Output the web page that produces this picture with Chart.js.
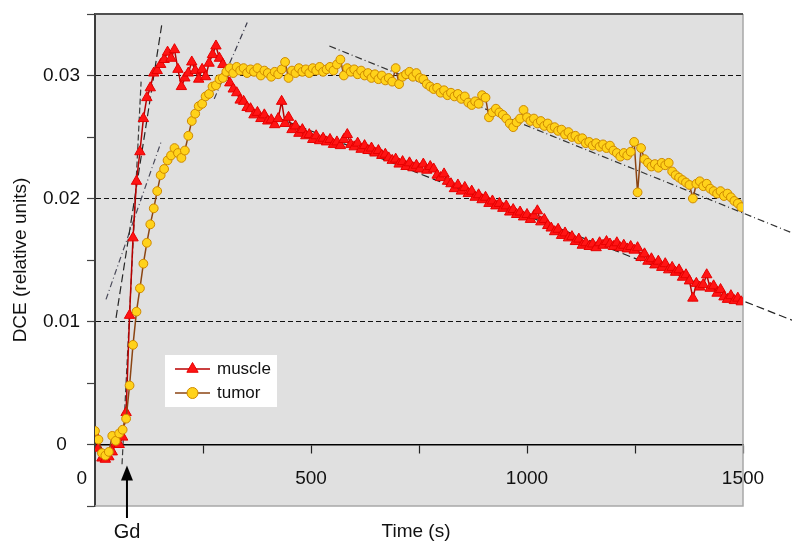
<!DOCTYPE html>
<html><head><meta charset="utf-8">
<script src="https://cdn.jsdelivr.net/npm/chart.js@4.4.1/dist/chart.umd.min.js"></script>
<style>html,body{margin:0;padding:0;background:#fff;}#wrap{width:792px;height:542px;}</style>
</head><body><div id="wrap"><canvas id="c" width="792" height="542"></canvas></div>
<script>
// ---- data ----
const times = [
0,8,16,24,32,40,48,56,64,72,
80,88,96,104,112,120,128,136,144,152,
160,168,176,184,192,200,208,216,224,232,
240,248,256,264,272,280,288,296,304,312,
320,328,336,344,352,360,368,376,384,392,
400,408,416,424,432,440,448,456,464,472,
480,488,496,504,512,520,528,536,544,552,
560,568,576,584,592,600,608,616,624,632,
640,648,656,664,672,680,688,696,704,712,
720,728,736,744,752,760,768,776,784,792,
800,808,816,824,832,840,848,856,864,872,
880,888,896,904,912,920,928,936,944,952,
960,968,976,984,992,1000,1008,1016,1024,1032,
1040,1048,1056,1064,1072,1080,1088,1096,1104,1112,
1120,1128,1136,1144,1152,1160,1168,1176,1184,1192,
1200,1208,1216,1224,1232,1240,1248,1256,1264,1272,
1280,1288,1296,1304,1312,1320,1328,1336,1344,1352,
1360,1368,1376,1384,1392,1400,1408,1416,1424,1432,
1440,1448,1456,1464,1472,1480,1488,1496
];
const muscle = [
0.0008,-0.0003,-0.0011,-0.0012,-0.0010,-0.0006,0.0001,0.0000,0.0006,0.0026,
0.0105,0.0168,0.0214,0.0238,0.0265,0.0282,0.0290,0.0302,0.0304,0.0309,
0.0313,0.0319,0.0314,0.0321,0.0305,0.0291,0.0298,0.0302,0.0311,0.0304,
0.0297,0.0305,0.0299,0.0310,0.0317,0.0324,0.0314,0.0309,0.0303,0.0294,
0.0289,0.0286,0.0280,0.0279,0.0274,0.0273,0.0268,0.0270,0.0265,0.0268,
0.0263,0.0264,0.0260,0.0265,0.0279,0.0261,0.0266,0.0256,0.0259,0.0253,
0.0256,0.0251,0.0252,0.0248,0.0251,0.0247,0.0249,0.0246,0.0248,0.0244,
0.0246,0.0243,0.0248,0.0252,0.0244,0.0242,0.0245,0.0240,0.0243,0.0239,
0.0241,0.0237,0.0239,0.0235,0.0236,0.0233,0.0231,0.0232,0.0228,0.0230,
0.0226,0.0229,0.0225,0.0227,0.0224,0.0228,0.0223,0.0226,0.0224,0.0219,
0.0217,0.0220,0.0214,0.0212,0.0208,0.0211,0.0206,0.0209,0.0204,0.0206,
0.0201,0.0203,0.0199,0.0201,0.0196,0.0198,0.0194,0.0196,0.0192,0.0194,
0.0189,0.0191,0.0187,0.0189,0.0185,0.0187,0.0183,0.0186,0.0190,0.0181,
0.0183,0.0178,0.0176,0.0173,0.0175,0.0170,0.0172,0.0168,0.0169,0.0165,
0.0167,0.0162,0.0164,0.0161,0.0163,0.0160,0.0164,0.0162,0.0165,0.0163,
0.0161,0.0164,0.0160,0.0162,0.0159,0.0161,0.0158,0.0160,0.0152,0.0155,
0.0149,0.0151,0.0146,0.0149,0.0144,0.0147,0.0142,0.0144,0.0140,0.0142,
0.0136,0.0138,0.0133,0.0119,0.0131,0.0128,0.0130,0.0138,0.0127,0.0129,
0.0123,0.0126,0.0120,0.0118,0.0121,0.0117,0.0119,0.0116
];
const tumor = [
0.0011,0.0004,-0.0007,-0.0009,-0.0006,0.0007,0.0003,0.0009,0.0012,0.0021,
0.0048,0.0081,0.0108,0.0127,0.0147,0.0164,0.0179,0.0192,0.0206,0.0219,
0.0224,0.0231,0.0235,0.0241,0.0237,0.0233,0.0239,0.0251,0.0263,0.0269,
0.0275,0.0277,0.0283,0.0285,0.0291,0.0292,0.0297,0.0298,0.0303,0.0306,
0.0302,0.0307,0.0304,0.0306,0.0302,0.0305,0.0303,0.0306,0.0300,0.0304,
0.0302,0.0299,0.0303,0.0301,0.0305,0.0311,0.0298,0.0304,0.0302,0.0306,
0.0303,0.0305,0.0302,0.0306,0.0304,0.0307,0.0303,0.0305,0.0307,0.0304,
0.0309,0.0313,0.0300,0.0306,0.0303,0.0305,0.0301,0.0304,0.0300,0.0302,
0.0298,0.0301,0.0297,0.0300,0.0296,0.0298,0.0295,0.0306,0.0293,0.0299,
0.0301,0.0303,0.0299,0.0302,0.0298,0.0297,0.0293,0.0291,0.0289,0.0290,
0.0286,0.0288,0.0284,0.0286,0.0283,0.0285,0.0281,0.0283,0.0278,0.0276,
0.0279,0.0277,0.0284,0.0282,0.0266,0.0270,0.0273,0.0270,0.0268,0.0265,
0.0261,0.0258,0.0262,0.0265,0.0272,0.0266,0.0263,0.0265,0.0261,0.0263,
0.0259,0.0261,0.0257,0.0258,0.0255,0.0256,0.0252,0.0254,0.0250,0.0251,
0.0248,0.0249,0.0245,0.0246,0.0243,0.0245,0.0242,0.0244,0.0241,0.0243,
0.0239,0.0237,0.0234,0.0237,0.0235,0.0238,0.0246,0.0205,0.0241,0.0232,
0.0229,0.0226,0.0228,0.0225,0.0229,0.0227,0.0229,0.0222,0.0219,0.0217,
0.0215,0.0213,0.0211,0.0200,0.0212,0.0214,0.0210,0.0212,0.0208,0.0206,
0.0204,0.0206,0.0202,0.0204,0.0201,0.0198,0.0196,0.0193
];
// fitted lines (time s, DCE) end points
const fitMuscleRiseA = [[48.7,0.0103],[155.3,0.0343]];
const fitMuscleRiseB = [[62.6,-0.0016],[106.7,0.0295]];
const fitTumorRiseA  = [[25.5,0.0118],[153,0.0246]];
const fitTumorRiseB  = [[276,0.0281],[352.4,0.0343]];
const fitTumorDecay  = [[542.5,0.0324],[1614,0.0172]];
const fitMuscleDecay = [[420,0.0266],[1614,0.0101]];
const xTickLabels = {0:'0     ', 500:'500', 1000:'1000', 1500:'1500'};
const yTickLabels = {0:'0', 10:'0.01', 20:'0.02', 30:'0.03'}; // keys in 1/1000
const gdTime = 74;
const seriesNames = ['muscle','tumor'];

// ---- chart ----
const FONT = '"Liberation Sans", Arial, Helvetica, sans-serif';
Chart.defaults.font.family = FONT;
const pts = arr => times.map((t,i)=>({x:t,y:arr[i]}));
const fitPts = arr => arr.map(p=>({x:p[0],y:p[1]}));
const fitDs = (arr, color, dash, clip) => {
  const d = { data: fitPts(arr), borderColor: color, borderWidth: 1.2, borderDash: dash,
    pointRadius: 0, pointHoverRadius: 0, fill: false, order: 2 };
  if (clip) d.clip = false;
  return d;
};

const M_LINE = '#b80000', M_PT = '#ff1414', M_PTB = '#e60000';
const T_LINE = '#8b4513', T_PT = '#ffd21a', T_PTB = '#cf8a00';

const decor = {
  id: 'decor',
  beforeDraw(chart){
    const {ctx, chartArea:a} = chart;
    ctx.save();
    ctx.fillStyle = '#fff'; ctx.fillRect(0,0,chart.width,chart.height);
    ctx.fillStyle = '#e0e0e0'; ctx.fillRect(a.left, a.top, a.right-a.left, a.bottom-a.top);
    ctx.restore();
  },
  beforeDatasetsDraw(chart){
    const {ctx, chartArea:a} = chart;
    ctx.save();
    ctx.strokeStyle = '#a8a8a8'; ctx.lineWidth = 1.5;
    ctx.beginPath(); ctx.moveTo(a.right, a.top); ctx.lineTo(a.right, a.bottom); ctx.lineTo(a.left, a.bottom); ctx.stroke();
    ctx.strokeStyle = '#505050'; ctx.lineWidth = 2;
    ctx.beginPath(); ctx.moveTo(a.left, a.top); ctx.lineTo(a.right, a.top); ctx.stroke();
    ctx.restore();
  },
  afterDraw(chart){
    const {ctx, chartArea:a} = chart;
    const xs = chart.scales.x, ys = chart.scales.y;
    ctx.save();
    // legend
    const lx = a.left + 70, ly = a.top + 341;
    ctx.fillStyle = '#fff'; ctx.fillRect(lx, ly, 112, 52);
    const rows = [ly+14, ly+38];
    ctx.lineWidth = 1.6;
    ctx.strokeStyle = M_LINE; ctx.beginPath(); ctx.moveTo(lx+10, rows[0]); ctx.lineTo(lx+45, rows[0]); ctx.stroke();
    const cx = lx+27.5, r = 6.5;
    ctx.fillStyle = M_PT; ctx.strokeStyle = M_PTB; ctx.lineWidth = 1;
    ctx.beginPath(); ctx.moveTo(cx, rows[0]-r); ctx.lineTo(cx+0.866*r, rows[0]+0.5*r); ctx.lineTo(cx-0.866*r, rows[0]+0.5*r); ctx.closePath(); ctx.fill(); ctx.stroke();
    ctx.lineWidth = 1.6; ctx.strokeStyle = T_LINE;
    ctx.beginPath(); ctx.moveTo(lx+10, rows[1]); ctx.lineTo(lx+45, rows[1]); ctx.stroke();
    ctx.fillStyle = T_PT; ctx.strokeStyle = T_PTB; ctx.lineWidth = 1;
    ctx.beginPath(); ctx.arc(cx, rows[1], 5.5, 0, Math.PI*2); ctx.fill(); ctx.stroke();
    ctx.fillStyle = '#111'; ctx.font = '17px ' + FONT; ctx.textBaseline = 'middle'; ctx.textAlign = 'left';
    ctx.fillText(seriesNames[0], lx+52, rows[0]);
    ctx.fillText(seriesNames[1], lx+52, rows[1]);
    // Gd arrow
    const gx = xs.getPixelForValue(gdTime);
    const tip = ys.getPixelForValue(0) + 21;
    ctx.strokeStyle = '#000'; ctx.lineWidth = 2;
    ctx.beginPath(); ctx.moveTo(gx, a.bottom + 12); ctx.lineTo(gx, tip + 10); ctx.stroke();
    ctx.fillStyle = '#000';
    ctx.beginPath(); ctx.moveTo(gx, tip); ctx.lineTo(gx-6, tip+15); ctx.lineTo(gx+6, tip+15); ctx.closePath(); ctx.fill();
    ctx.font = '20px ' + FONT; ctx.textAlign = 'center'; ctx.textBaseline = 'alphabetic'; ctx.fillStyle = '#111';
    ctx.fillText('Gd', gx, a.bottom + 32);
    // x title
    ctx.font = '19px ' + FONT;
    ctx.fillText('Time (s)', (a.left + a.right)/2 - 3, a.bottom + 31);
    ctx.restore();
  }
};

new Chart(document.getElementById('c'), {
  type: 'line',
  data: { datasets: [
    { label: seriesNames[1], data: pts(tumor), borderColor: T_LINE, borderWidth: 1.5,
      pointStyle: 'circle', pointRadius: 4.4, pointBackgroundColor: T_PT, pointBorderColor: T_PTB, pointBorderWidth: 1,
      tension: 0, order: 0 },
    { label: seriesNames[0], data: pts(muscle), borderColor: M_LINE, borderWidth: 1.5,
      pointStyle: 'triangle', pointRadius: 6, pointBackgroundColor: M_PT, pointBorderColor: M_PTB, pointBorderWidth: 1,
      tension: 0, order: 1 },
    fitDs(fitMuscleRiseA, '#262626', [8,4], false),
    fitDs(fitMuscleRiseB, '#3a3a3a', [6,3], false),
    fitDs(fitTumorRiseA, '#4a4a5a', [6,3,1,3], false),
    fitDs(fitTumorRiseB, '#3a3a4a', [6,3,1,3], false),
    fitDs(fitTumorDecay, '#333', [7,3,1,3], true),
    fitDs(fitMuscleDecay, '#222', [8,4], true)
  ]},
  options: {
    responsive: false, animation: false, devicePixelRatio: 1,
    layout: { padding: { top: 14, right: 49, bottom: 36, left: 0 } },
    plugins: { legend: { display: false }, tooltip: { enabled: false } },
    events: [],
    scales: {
      x: {
        type: 'linear', min: 0, max: 1500, position: { y: 0 },
        afterFit: s => { s.paddingLeft = 0; s.paddingRight = 0; s.paddingTop = 0; s.paddingBottom = 0; },
        grid: { drawOnChartArea: false, drawTicks: true, tickLength: 8, tickColor: '#222', tickWidth: 1.2 },
        border: { display: true, color: '#000', width: 1.5 },
        ticks: { stepSize: 250, autoSkip: false, maxRotation: 0, padding: 15, color: '#111',
                 font: { size: 19 }, callback: v => (xTickLabels[v] !== undefined ? xTickLabels[v] : '') }
      },
      y: {
        type: 'linear', min: -0.005, max: 0.035,
        afterFit: s => { s.width = 95; s.paddingTop = 0; s.paddingBottom = 0; },
        grid: {
          color: ctx => {
            if (!ctx.tick) return 'rgba(0,0,0,0)';
            const k = Math.round(ctx.tick.value * 1000);
            return (k === 10 || k === 20 || k === 30) ? '#111' : 'rgba(0,0,0,0)';
          },
          lineWidth: 1, drawTicks: true, tickLength: 8, tickColor: '#444', tickWidth: 1.2
        },
        border: { display: true, color: '#3c3c3c', width: 2, dash: [5,3] },
        ticks: { stepSize: 0.005, padding: 7, crossAlign: 'center', color: '#111', font: { size: 19 },
                 callback: v => { const k = Math.round(v*1000); return yTickLabels[k] !== undefined ? yTickLabels[k] : ''; } },
        title: { display: true, text: 'DCE (relative units)', color: '#111', font: { size: 19 }, padding: { top: 9, bottom: 0 } }
      }
    }
  },
  plugins: [decor]
});
</script>
</body></html>
